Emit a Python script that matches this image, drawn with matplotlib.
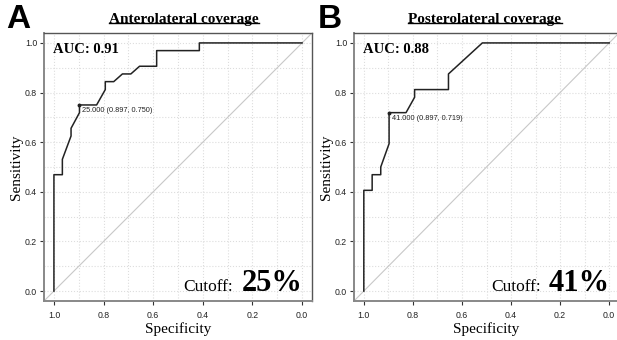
import matplotlib.pyplot as plt
import numpy as np
from matplotlib.lines import Line2D

# ROC curves (specificity, sensitivity)
spec_a = [1.0, 1.0, 0.966, 0.966, 0.931, 0.931, 0.897, 0.897, 0.828, 0.793, 0.793,
          0.759, 0.724, 0.690, 0.655, 0.586, 0.586, 0.414, 0.414, 0.0]
sens_a = [0.0, 0.469, 0.469, 0.531, 0.625, 0.656, 0.719, 0.750, 0.750, 0.812, 0.844,
          0.844, 0.875, 0.875, 0.906, 0.906, 0.969, 0.969, 1.0, 1.0]

spec_b = [1.0, 1.0, 0.966, 0.966, 0.931, 0.931, 0.897, 0.897, 0.828, 0.793, 0.793,
          0.655, 0.655, 0.517, 0.0]
sens_b = [0.0, 0.406, 0.406, 0.469, 0.469, 0.500, 0.594, 0.719, 0.719, 0.781, 0.812,
          0.812, 0.875, 1.0, 1.0]

titles = ["Anterolateral coverage", "Posterolateral coverage"]
letters = ["A", "B"]
aucs = [0.91, 0.88]
cutoffs = [25, 41]
best = [(25.0, 0.897, 0.750), (41.0, 0.897, 0.719)]

serif = "Liberation Serif"
sans = "Liberation Sans"

fig = plt.figure(figsize=(6.17, 3.40), dpi=100)
W, H = 617, 340

def px_axes(l, t, r, b):
    return fig.add_axes([l / W, 1 - b / H, (r - l) / W, (b - t) / H])

axes = [px_axes(44, 33, 312, 301), px_axes(354, 33, 619, 301)]
title_x = [184, 485]
letter_x = [6, 318]

for i, ax in enumerate(axes):
    spec = [spec_a, spec_b][i]
    sens = [sens_a, sens_b][i]
    ax.set_xlim(1.04, -0.04)
    ax.set_ylim(-0.04, 1.04)
    ax.set_xticks(np.arange(0, 1.01, 0.2))
    ax.set_yticks(np.arange(0, 1.01, 0.2))
    ax.set_xticks(np.arange(0.1, 1.0, 0.2), minor=True)
    ax.set_yticks(np.arange(0.1, 1.0, 0.2), minor=True)
    ax.set_xticklabels(["%.1f" % v for v in np.arange(0, 1.01, 0.2)], fontfamily=sans)
    ax.set_yticklabels(["%.1f" % v for v in np.arange(0, 1.01, 0.2)], fontfamily=sans)
    ax.tick_params(which="major", labelsize=6.3, length=3, width=0.8, color="#333333",
                   labelcolor="#222222", pad=2)
    ax.tick_params(axis="x", which="major", pad=4)
    ax.tick_params(which="minor", length=0)
    ax.grid(which="both", color="#dddddd", linestyle=":", linewidth=0.8)
    ax.set_axisbelow(True)
    for s in ["left", "bottom"]:
        ax.spines[s].set_color("#888888")
        ax.spines[s].set_linewidth(1.4)
    for s in ["top", "right"]:
        ax.spines[s].set_color("#555555")
        ax.spines[s].set_linewidth(1.0)

    ax.axline((1, 0), (0, 1), color="#c8c8c8", linewidth=0.8)
    ax.plot(spec, sens, color="#222222", linewidth=1.1)

    thr, sx, sy = best[i]
    ax.plot([sx], [sy], "o", color="#222222", markersize=1.8)
    ax.text(sx - 0.012, sy - 0.008, "%.3f (%.3f, %.3f)" % (thr, sx, sy),
            fontsize=5.3, fontfamily=sans, va="top", ha="left", color="#222222")

    ax.text(0.035, 0.94, "AUC: %.2f" % aucs[i], transform=ax.transAxes, fontsize=10.5,
            fontweight="bold", fontfamily=serif, va="center", ha="left")

    ax.set_xlabel("Specificity", fontfamily=serif, fontsize=11, labelpad=2)
    ax.set_ylabel("Sensitivity", fontfamily=serif, fontsize=11, labelpad=1)

    # cutoff annotation
    ax.text(0.278, 0.0, "Cutoff:", fontsize=12.5, fontfamily=serif, ha="right",
            va="baseline")
    ax.text(-0.004, 0.0, "%d%%" % cutoffs[i], fontsize=22, fontweight="bold",
            fontfamily=serif, ha="right", va="baseline")

    t = fig.text(title_x[i] / W, 1 - 19 / H, titles[i], fontsize=11, fontweight="bold",
                 fontfamily=serif, ha="center", va="center")
    t._underline = True
    fig.text(letter_x[i] / W, 1 - 20 / H, letters[i], fontsize=24, fontweight="bold",
             fontfamily=sans, ha="left", va="center")

# underline titles
fig.canvas.draw()
r = fig.canvas.get_renderer()
for t in fig.texts:
    if getattr(t, "_underline", False):
        bb = t.get_window_extent(r).transformed(fig.transFigure.inverted())
        y = bb.y0 + 0.006
        fig.add_artist(Line2D([bb.x0, bb.x1], [y, y], color="black", linewidth=1.0,
                              transform=fig.transFigure))

fig.savefig("out.png", dpi=100)
